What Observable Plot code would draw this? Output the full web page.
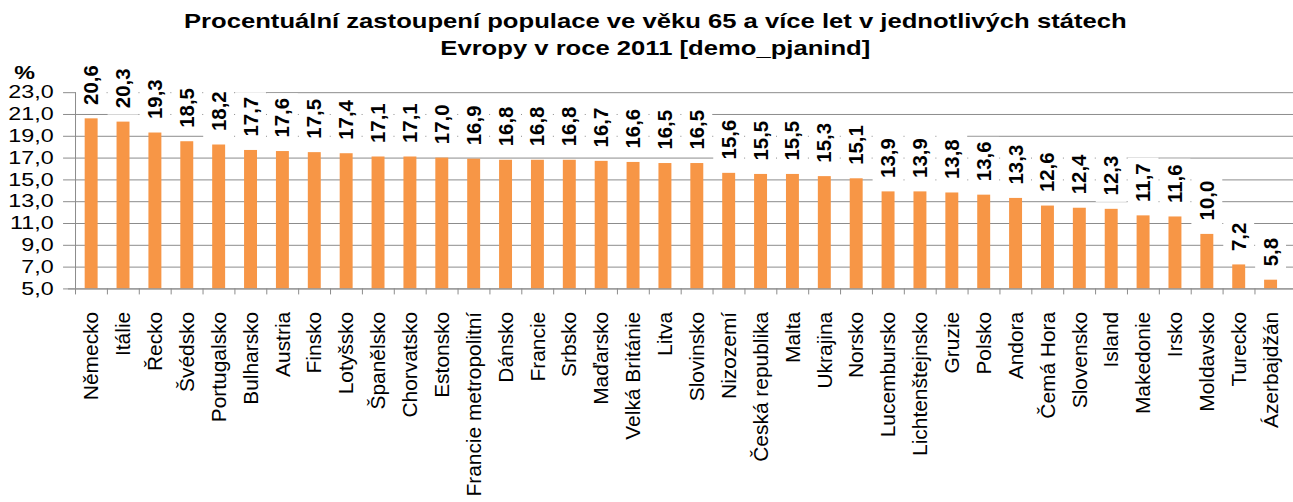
<!DOCTYPE html>
<html><head><meta charset="utf-8">
<script src="https://cdn.jsdelivr.net/npm/d3@7"></script>
<script src="https://cdn.jsdelivr.net/npm/@observablehq/plot@0.6"></script>
<style>
body{margin:0;background:#fff;overflow:hidden;font-family:"Liberation Sans",Arial,sans-serif;}
#title{width:1293px;box-sizing:border-box;padding-left:17px;padding-top:7px;height:60px;text-align:center;font-weight:bold;font-size:21px;line-height:27px;color:#000;}
#title span{display:inline-block;transform:scaleX(1.22);transform-origin:50% 50%;}
#chart svg{display:block;}
</style></head><body>
<div id="title"><span>Procentuální zastoupení populace ve věku 65 a více let v jednotlivých státech<br>Evropy v roce 2011 [demo_pjanind]</span></div>
<div id="chart"></div>
<script>
const countries = ["Německo","Itálie","Řecko","Švédsko","Portugalsko","Bulharsko","Austria","Finsko","Lotyšsko","Španělsko","Chorvatsko","Estonsko","Francie metropolitní","Dánsko","Francie","Srbsko","Maďarsko","Velká Británie","Litva","Slovinsko","Nizozemí","Česká republika","Malta","Ukrajina","Norsko","Lucembursko","Lichtenštejnsko","Gruzie","Polsko","Andora","Čemá Hora","Slovensko","Island","Makedonie","Irsko","Moldavsko","Turecko","Ázerbajdžán"];
const values = [20.6,20.3,19.3,18.5,18.2,17.7,17.6,17.5,17.4,17.1,17.1,17.0,16.9,16.8,16.8,16.8,16.7,16.6,16.5,16.5,15.6,15.5,15.5,15.3,15.1,13.9,13.9,13.8,13.6,13.3,12.6,12.4,12.3,11.7,11.6,10.0,7.2,5.8];
const yTicks = [5,7,9,11,13,15,17,19,21,23];
const yUnit = "%";

const data = countries.map((c, i) => ({country: c, value: values[i]}));
const fmt = v => v.toFixed(1).replace(".", ",");
const W = 1298, H = 442, ML = 68.3, MR = 0, MT = 32.3, MB = 212.7;
const step = (W - ML - MR) / countries.length;
const grid = "#8c8c8c";

const chart = Plot.plot({
  width: W, height: H,
  marginLeft: ML, marginRight: MR, marginTop: MT, marginBottom: MB,
  style: {fontFamily: "Liberation Sans, Arial, sans-serif", fontSize: "20px", color: "#000", background: "#fff"},
  x: {type: "band", domain: countries, paddingInner: 0.6, paddingOuter: 0.3},
  y: {domain: [5, 23], axis: null},
  marks: [
    Plot.ruleY(yTicks, {y: d => d, stroke: grid, insetLeft: -5}),
    Plot.barY(data.filter(d => fmt(d.value).length > 3), {x: "country", y1: "value", y2: "value", insetTop: -58, insetBottom: 7, insetLeft: -9, insetRight: -9, fill: "white"}),
    Plot.barY(data.filter(d => fmt(d.value).length <= 3), {x: "country", y1: "value", y2: "value", insetTop: -47, insetBottom: 7, insetLeft: -9, insetRight: -9, fill: "white"}),
    Plot.barY(data, {x: "country", y1: 5, y2: "value", fill: "#F79646"}),
    Plot.ruleX([countries[0]], {x: d => d, y1: 5, y2: 23, dx: -step / 2, stroke: grid}),
    Plot.ruleX(countries, {x: d => d, y1: 5, y2: 4.45, dx: -step / 2, stroke: grid}),
    Plot.ruleY([5], {y: d => d, stroke: grid}),
    Plot.text(data, {x: "country", y: "value", text: d => fmt(d.value), rotate: -90, textAnchor: "start", dy: -14, fontSize: 20.5, fontWeight: "bold", fill: "#000"}),
    Plot.axisX({tickSize: 0, tickPadding: 23, tickRotate: -90, fontSize: 21, label: null}),
    Plot.text(yTicks, {y: d => d, text: d => fmt(d), frameAnchor: "left", textAnchor: "end", dx: -15, fontSize: 18, fill: "#000"}),
    Plot.text([yUnit], {frameAnchor: "top-left", text: d => d, dx: -44, dy: -27, fontWeight: "bold", fontSize: 18, textAnchor: "middle", fill: "#000"})
  ]
});
document.getElementById("chart").appendChild(chart);

// widen the horizontal y tick labels and unit like the reference (glyph stretch, position kept)
const wide = new Set(yTicks.map(fmt).concat([yUnit]));
d3.select(chart).selectAll("text").each(function () {
  const t = this.getAttribute("transform") || "";
  if (t.includes("rotate")) return;
  if (!wide.has(this.textContent)) return;
  const w = this.getComputedTextLength();
  this.setAttribute("textLength", w * 1.3);
  this.setAttribute("lengthAdjust", "spacingAndGlyphs");
});
</script>
</body></html>
